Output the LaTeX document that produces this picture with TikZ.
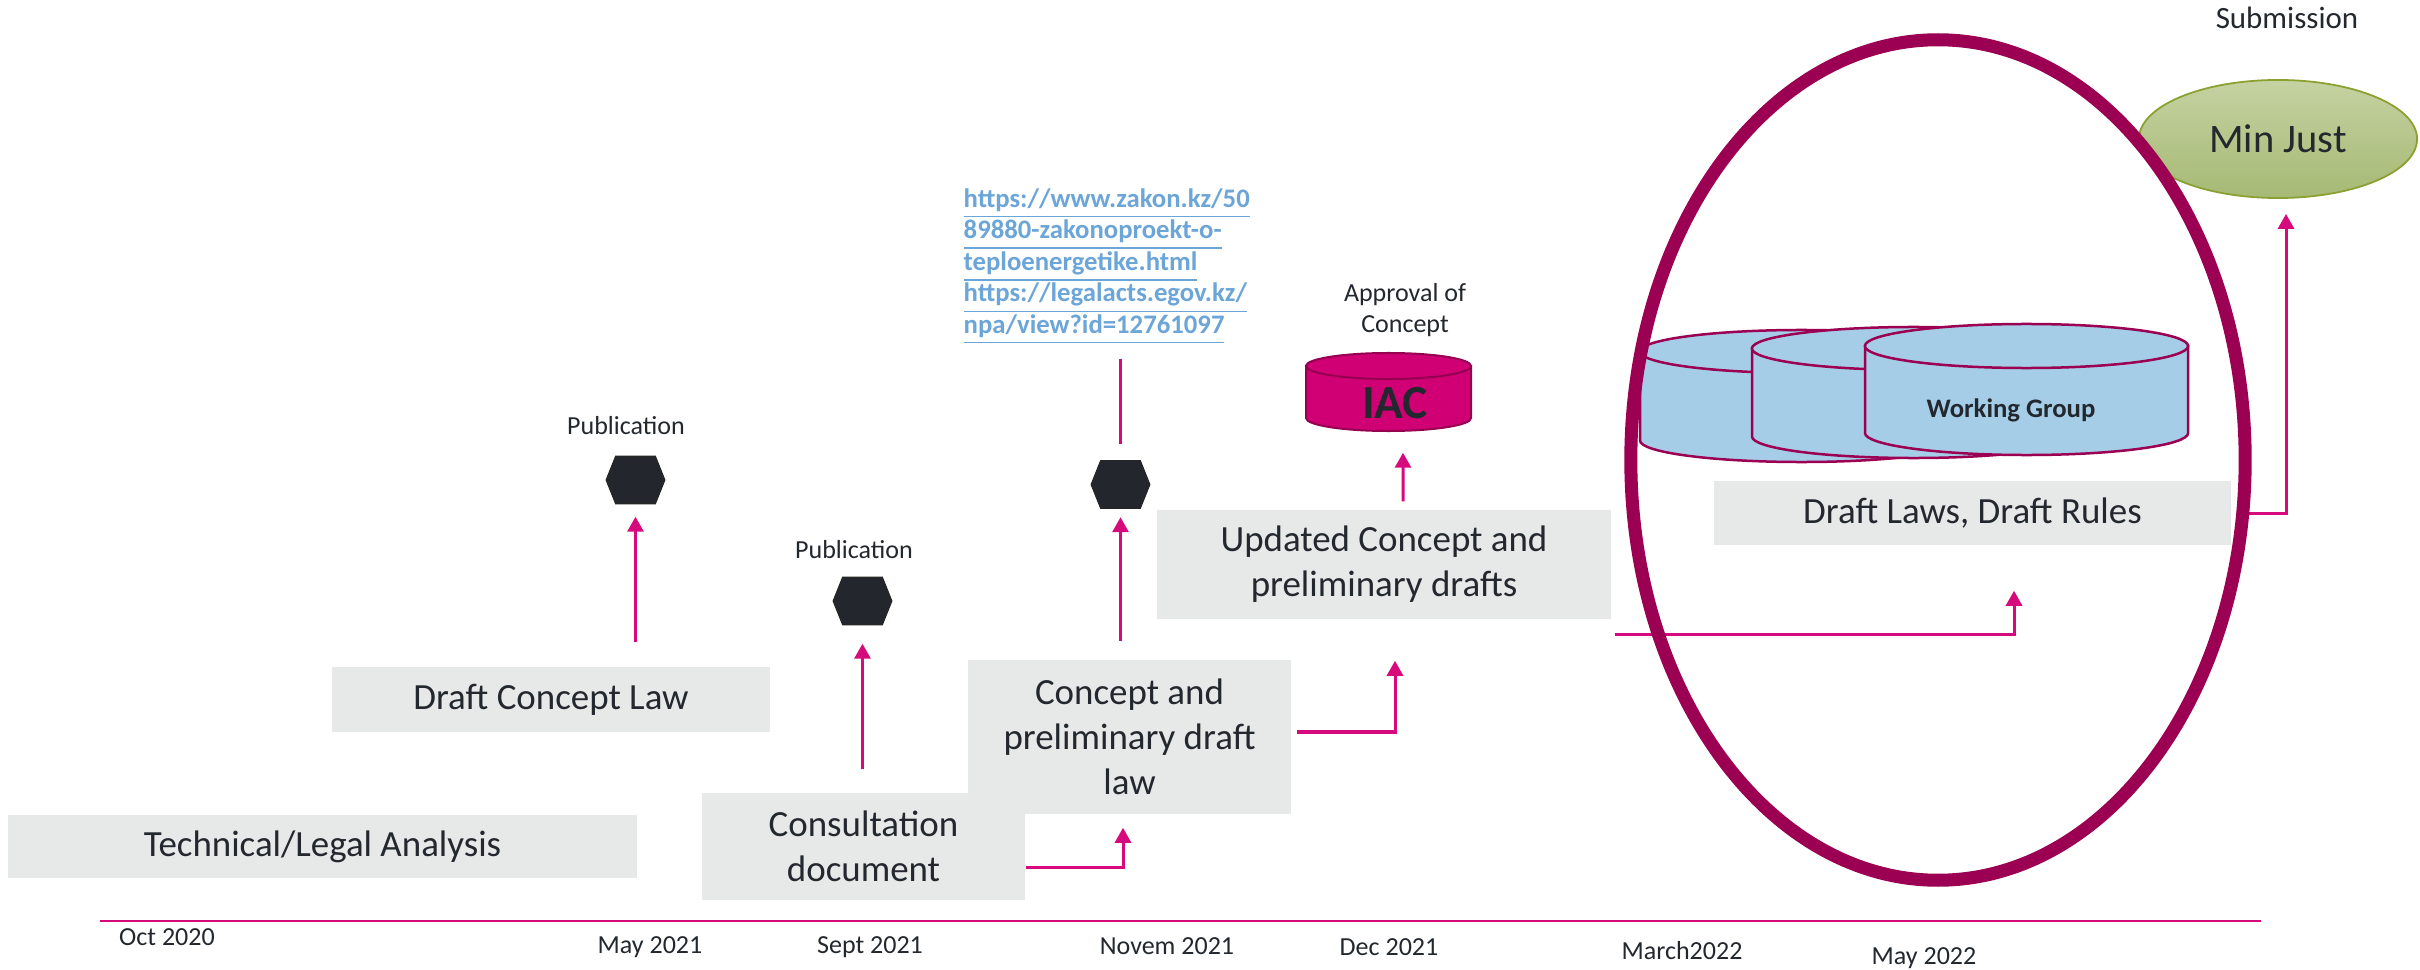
\documentclass[tikz,border=0pt]{standalone}
\usepackage{fontspec}
\setmainfont{Carlito}
\usetikzlibrary{arrows.meta,shapes.geometric}

\definecolor{ink}{RGB}{35,40,46}
\definecolor{panel}{RGB}{231,232,232}
\definecolor{flowpink}{RGB}{214,10,125}
\definecolor{hexdark}{RGB}{35,39,45}
\definecolor{iacfill}{RGB}{208,0,116}
\definecolor{iacedge}{RGB}{150,0,80}
\definecolor{wgfill}{RGB}{166,205,232}
\definecolor{wine}{RGB}{155,0,82}
\definecolor{linkblue}{RGB}{108,165,215}
\definecolor{leaftop}{RGB}{197,210,162}
\definecolor{leafbot}{RGB}{166,185,116}
\definecolor{leafedge}{RGB}{138,160,48}

% underlined hyperlink line with a uniform depth
\newcommand\linkline[1]{\underline{#1\vphantom{py}}}

% drum (cylinder): #1 style, #2 left x, #3 right x, #4 top y, #5 bottom y, #6 half height of the end ellipse
\newcommand\drawdrum[6]{%
  \pgfmathsetmacro\drumcx{(#2+#3)/2}%
  \pgfmathsetmacro\drumrx{(#3-#2)/200}%
  \pgfmathsetmacro\drumry{#6/100}%
  \pgfmathsetmacro\drumyt{#4+#6}%
  \pgfmathsetmacro\drumyb{#5-#6}%
  \path[#1] (#2,\drumyt) -- (#2,\drumyb)
     arc[start angle=180, end angle=360, x radius=\drumrx cm, y radius=\drumry cm]
     -- (#3,\drumyt) -- cycle;
  \path[#1] (\drumcx,\drumyt) ellipse[x radius=\drumrx cm, y radius=\drumry cm];
}

\begin{document}
\begin{tikzpicture}[x=0.01cm, y=-0.01cm,
  phase/.style={fill=panel, inner sep=0pt, align=center, text=ink,
    font=\fontsize{10.5}{12.8}\selectfont},
  flow/.style={draw=flowpink, line width=0.03cm, -{Triangle[width=0.16cm,length=0.15cm]}},
  link/.style={draw=flowpink, line width=0.025cm},
  hexmark/.style={inner sep=0pt, minimum width=0.57cm, minimum height=0.46cm},
  hexshape/.style={fill=hexdark, draw=black!85, line width=0.4pt},
  tag/.style={text=ink, inner sep=0pt, align=center, font=\fontsize{7.4}{8.8}\selectfont},
  datelabel/.style={text=ink, inner sep=0pt, anchor=base, font=\fontsize{7.4}{8.8}\selectfont},
  drumiac/.style={fill=iacfill, draw=iacedge, line width=0.02cm},
  drumwg/.style={fill=wgfill, draw=wine, line width=0.025cm},
]
\useasboundingbox (0,0) rectangle (2420,970);
\fill[white] (0,0) rectangle (2420,970);

% time axis
\coordinate (axisL) at (100,921);
\coordinate (axisR) at (2261,921);
\draw[link] (axisL) -- (axisR);

\node[datelabel] (d1) at (167,945)  {Oct 2020};
\node[datelabel] (d2) at (650,953)  {May 2021};
\node[datelabel] (d3) at (870,953)  {Sept 2021};
\node[datelabel] (d4) at (1167,954) {Novem 2021};
\node[datelabel] (d5) at (1389,955) {Dec 2021};
\node[datelabel] (d6) at (1682,959) {March2022};
\node[datelabel] (d7) at (1924,964) {May 2022};

% phases
\node[phase, minimum width=6.29cm, minimum height=0.63cm] (tech) at (322.5,846.5) {Technical/Legal Analysis};
\node[phase, minimum width=4.38cm, minimum height=0.65cm] (dcl) at (551,699.5) {Draft Concept Law};
\node[phase, minimum width=3.23cm, minimum height=1.07cm] (cons) at (863.5,846.5) {Consultation\\document};
\node[phase, minimum width=3.23cm, minimum height=1.54cm] (conc) at (1129.5,737) {Concept and\\preliminary draft\\law};
\node[phase, minimum width=4.54cm, minimum height=1.09cm] (upd) at (1384,564.5) {Updated Concept and\\preliminary drafts};
\node[phase, minimum width=5.17cm, minimum height=0.64cm] (dlaws) at (1972.5,513) {Draft Laws, Draft Rules};

% publication markers
\node[hexmark] (hex1) at (635.5,480) {};
\node[hexmark] (hex2) at (862.5,601) {};
\node[hexmark] (hex3) at (1120.5,484.5) {};
\foreach \h in {hex1,hex2,hex3}
  \path[hexshape] (\h.west) -- ([xshift=0.095cm]\h.north west) -- ([xshift=-0.095cm]\h.north east)
     -- (\h.east) -- ([xshift=-0.095cm]\h.south east) -- ([xshift=0.095cm]\h.south west) -- cycle;

\node[tag, anchor=base] (pub1) at (626,434) {Publication};
\node[tag, anchor=base] (pub2) at (854,558) {Publication};

\node[anchor=north west, inner sep=0pt, align=left, text=linkblue,
      font=\bfseries\fontsize{7.6}{8.96}\selectfont] (url) at (963,188)
  {\linkline{https://www.zakon.kz/50}\\\linkline{89880-zakonoproekt-o-}\\\linkline{teploenergetike.html}\\\linkline{https://legalacts.egov.kz/}\\\linkline{npa/view?id=12761097}};

% connectors
\draw[flow, shorten <=0.24cm, shorten >=0.13cm] (dcl.north -| hex1.south) -- (hex1.south);
\draw[flow, shorten <=0.23cm, shorten >=0.19cm] (cons.north -| hex2.south) -- (hex2.south);
\draw[flow, shorten <=0.18cm, shorten >=0.09cm] (conc.north -| hex3.south) -- (hex3.south);
\draw[link, shorten <=0.14cm, shorten >=0.17cm] (url.south -| hex3.north) -- (hex3.north);
\draw[flow, shorten >=0.13cm] ([yshift=-0.205cm]cons.east) -| ([xshift=-0.065cm]conc.south);
\draw[flow, shorten >=0.41cm] ([shift={(0.05cm,0.05cm)}]conc.east) -| ([xshift=0.11cm]upd.south);

% approval body
\node[tag, anchor=north] (appr) at (1405,283) {Approval of\\Concept};
\drawdrum{drumiac}{1306}{1471}{353}{431}{13}
\node[inner sep=0pt, minimum width=1.65cm, minimum height=0.78cm, text=ink,
      font=\bfseries\fontsize{13.5}{15}\selectfont] (iac) at (1395,403) {IAC};
\draw[flow, shorten <=0.08cm, shorten >=0.10cm] ([xshift=0.19cm]upd.north) -- ([xshift=0.08cm]iac.south);

% working groups
\drawdrum{drumwg}{1640}{1963}{330}{462}{21.5}
\drawdrum{drumwg}{1752}{2075}{327}{458}{21.5}
\drawdrum{drumwg}{1865}{2188}{324}{455}{22}
\node[inner sep=0pt, text=ink, font=\bfseries\fontsize{7.6}{9}\selectfont] (wg) at (2011,410) {Working Group};

\draw[flow, shorten >=0.45cm] ([shift={(0.03cm,-0.15cm)}]upd.south east) -| ([xshift=0.415cm]dlaws.south);

% submission
\node[inner sep=0pt, anchor=base, text=ink, font=\fontsize{8.8}{10}\selectfont] (subm) at (2287,29) {Submission};
\node[ellipse, minimum width=2.78cm, minimum height=1.18cm, inner sep=0pt,
      top color=leaftop, bottom color=leafbot, draw=leafedge, line width=0.5pt,
      text=ink, font=\fontsize{11.5}{13}\selectfont] (minjust) at (2278,139) {Min Just};
\draw[flow, shorten <=0.05cm, shorten >=0.15cm] (dlaws.east) -| ([xshift=0.08cm]minjust.south);

% drafting stage ring
\draw[wine, line width=0.13cm] (1938,460) ellipse[x radius=3.07cm, y radius=4.2cm];
\end{tikzpicture}
\end{document}
